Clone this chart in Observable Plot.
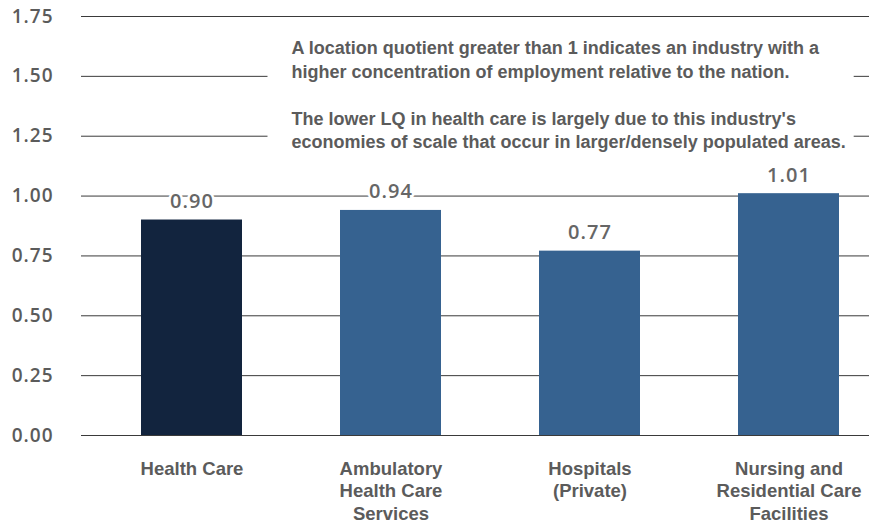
<!DOCTYPE html>
<html><head><meta charset="utf-8">
<script src="https://cdn.jsdelivr.net/npm/d3@7"></script>
<script src="https://cdn.jsdelivr.net/npm/@observablehq/plot@0.6"></script>
<style>html,body{margin:0;padding:0;background:#fff;} #chart{width:869px;height:525px;}</style>
</head><body><div id="chart"></div>
<script>
const categories = ["Health Care", "Ambulatory Health Care Services", "Hospitals (Private)", "Nursing and Residential Care Facilities"];
const categoryLabels = ["Health Care", "Ambulatory\nHealth Care\nServices", "Hospitals\n(Private)", "Nursing and\nResidential Care\nFacilities"];
const values = [0.90, 0.94, 0.77, 1.01];
const yTicks = [0, 0.25, 0.5, 0.75, 1, 1.25, 1.5, 1.75];
const annotation = "A location quotient greater than 1 indicates an industry with a\nhigher concentration of employment relative to the nation.\n\nThe lower LQ in health care is largely due to this industry's\neconomies of scale that occur in larger/densely populated areas.";

const data = categories.map((c, i) => ({category: c, value: values[i]}));
const labelOf = new Map(categories.map((c, i) => [c, categoryLabels[i]]));
const NAVY = "#12243e", BLUE = "#366290", GRID = "#3a3a3a", TEXT = "#5b5b5b";
const sans = "'Liberation Sans', Arial, sans-serif";
const semi = "'Open Sans', sans-serif";

const plot = Plot.plot({
  width: 869, height: 525,
  marginLeft: 81, marginRight: 0, marginTop: 16, marginBottom: 90,
  style: {background: "#fff", fontFamily: sans, overflow: "visible"},
  x: {domain: categories, range: [91, 889], paddingInner: 0.49, paddingOuter: 0.245, label: null},
  y: {domain: [0, 1.75], label: null},
  color: {domain: categories, range: [NAVY, BLUE, BLUE, BLUE]},
  marks: [
    Plot.ruleY(yTicks, {stroke: GRID, strokeWidth: 1}),
    Plot.barY(data, {x: "category", y: "value", fill: "category"}),
    Plot.text(data, {x: "category", y: "value", text: d => d.value.toFixed(2), dy: -12, lineAnchor: "bottom",
      fontFamily: semi, fontWeight: 600, fontSize: 20, fill: "#666", stroke: "white", strokeWidth: 5, paintOrder: "stroke"}),
    Plot.text([annotation], {frameAnchor: "top-left", dx: 210, dy: 21, textAnchor: "start", lineAnchor: "top", lineHeight: 1.306,
      fontSize: 18, fontWeight: "bold", fill: TEXT}),
    Plot.axisY(yTicks, {tickSize: 0, tickPadding: 28, tickFormat: d3.format(".2f"), fontFamily: semi, fontWeight: 600, fontSize: 19, color: TEXT}),
    Plot.axisX({tickSize: 0, tickPadding: 24, tickFormat: d => labelOf.get(d), lineHeight: 1.2, fontSize: 18.5, fontWeight: "bold", color: TEXT})
  ]
});
document.getElementById("chart").append(plot);

// white box behind the annotation (sized from the rendered text)
const svg = d3.select(plot);
const annText = svg.selectAll("text").filter(function() { return this.textContent.startsWith("A location"); }).node();
if (annText) {
  const group = annText.parentNode;
  const bb = annText.getBBox();
  const tf = annText.getAttribute("transform");
  const rect = d3.select(group).insert("rect", () => annText)
    .attr("x", bb.x - 24).attr("y", bb.y - 4)
    .attr("width", bb.width + 32).attr("height", bb.height + 8)
    .attr("fill", "white").attr("stroke", "none");
  if (tf) rect.attr("transform", tf);
}
svg.selectAll("text").filter(function() { return /^\d\.\d\d$/.test(this.textContent); }).attr("letter-spacing", 1);
</script>
</body></html>
